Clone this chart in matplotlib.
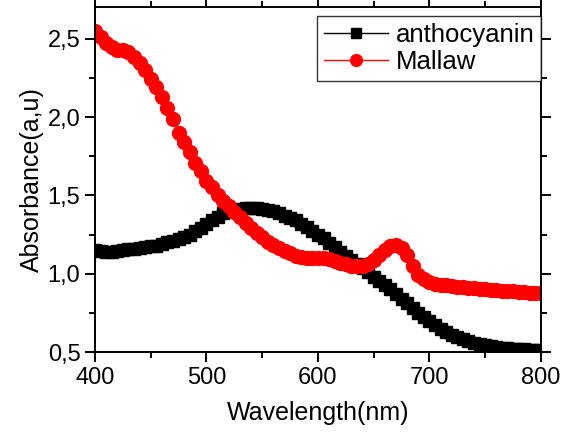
import matplotlib
matplotlib.use("Agg")
import matplotlib.pyplot as plt
from matplotlib.ticker import MultipleLocator, FuncFormatter

plt.rcParams["font.family"] = ["Liberation Sans", "DejaVu Sans"]

# wavelength grid read every 5 nm from the picture
wavelength = list(range(400, 801, 5))

anthocyanin = [
    1.15, 1.145, 1.14, 1.14, 1.145, 1.15, 1.155, 1.16, 1.165, 1.17,
    1.175, 1.18, 1.19, 1.20, 1.21, 1.22, 1.235, 1.25, 1.27, 1.29,
    1.315, 1.34, 1.36, 1.385, 1.40, 1.41, 1.415, 1.42, 1.42, 1.42,
    1.415, 1.41, 1.40, 1.385, 1.37, 1.355, 1.34, 1.32, 1.30, 1.275,
    1.25, 1.225, 1.195, 1.17, 1.14, 1.115, 1.09, 1.06, 1.035, 1.01,
    0.98, 0.955, 0.93, 0.90, 0.87, 0.84, 0.81, 0.78, 0.75, 0.725,
    0.70, 0.67, 0.65, 0.63, 0.61, 0.595, 0.58, 0.57, 0.56, 0.55,
    0.545, 0.537, 0.53, 0.527, 0.523, 0.52, 0.518, 0.517, 0.515, 0.515,
    0.515,
]

mallaw = [
    2.55, 2.51, 2.475, 2.445, 2.43, 2.43, 2.415, 2.385, 2.345, 2.30,
    2.245, 2.19, 2.13, 2.06, 1.985, 1.90, 1.84, 1.775, 1.71, 1.655,
    1.595, 1.555, 1.505, 1.465, 1.43, 1.395, 1.36, 1.325, 1.29, 1.26,
    1.235, 1.205, 1.185, 1.165, 1.145, 1.13, 1.115, 1.105, 1.10, 1.10,
    1.10, 1.10, 1.095, 1.08, 1.07, 1.06, 1.05, 1.05, 1.05, 1.06,
    1.09, 1.12, 1.15, 1.175, 1.185, 1.165, 1.12, 1.05, 0.99, 0.965,
    0.95, 0.935, 0.93, 0.925, 0.92, 0.918, 0.915, 0.91, 0.907, 0.905,
    0.90, 0.898, 0.895, 0.892, 0.89, 0.888, 0.885, 0.882, 0.88, 0.877,
    0.875,
]

fig = plt.figure(figsize=(5.7, 4.41), dpi=100)
ax = fig.add_axes([0.1667, 0.2018, 0.949 - 0.1667, 0.983 - 0.2018])

ax.plot(wavelength, anthocyanin, color="black", linewidth=1, marker="s",
        markersize=8.5, label="anthocyanin")
ax.plot(wavelength, mallaw, color="#ff0000", linewidth=1, marker="o",
        markersize=10, label="Mallaw")

ax.set_xlim(400, 800)
ax.set_ylim(0.5, 2.7)
ax.xaxis.set_major_locator(MultipleLocator(100))
ax.xaxis.set_minor_locator(MultipleLocator(50))
ax.yaxis.set_major_locator(MultipleLocator(0.5))
ax.yaxis.set_minor_locator(MultipleLocator(0.25))
ax.yaxis.set_major_formatter(FuncFormatter(lambda v, _: f"{v:.1f}".replace(".", ",")))

ax.tick_params(which="both", direction="out", width=1.4, top=True, right=True,
               labelsize=17)
ax.tick_params(which="major", length=7)
ax.tick_params(which="minor", length=4)
for sp in ax.spines.values():
    sp.set_linewidth(1.4)

ax.set_xlabel("Wavelength(nm)", fontsize=18, labelpad=9)
ax.set_ylabel("Absorbance(a,u)", fontsize=18, labelpad=3)

leg = ax.legend(loc="upper right", bbox_to_anchor=(1.0, 0.975), fontsize=18.5,
                frameon=True, fancybox=False, borderaxespad=0, borderpad=0.25,
                labelspacing=0.15, handlelength=2.5, handletextpad=0.3,
                markerscale=0.85)
leg.get_frame().set_edgecolor("black")
leg.get_frame().set_linewidth(1.0)

fig.savefig("out.png", dpi=100)
